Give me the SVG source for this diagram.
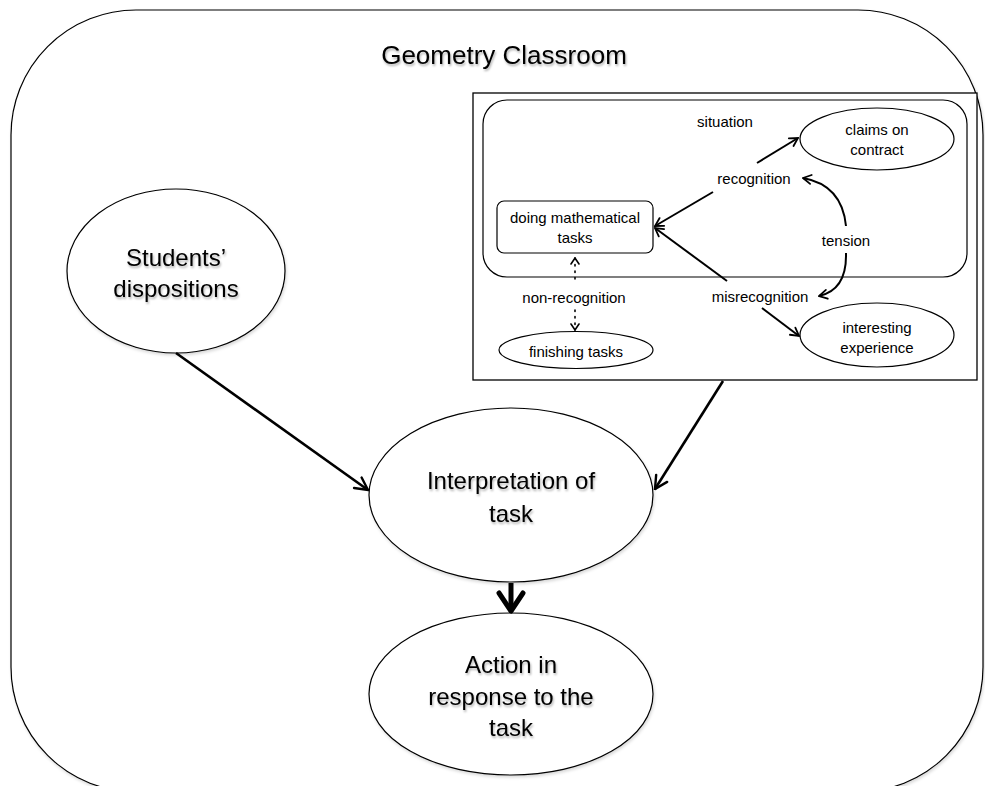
<svg xmlns="http://www.w3.org/2000/svg" width="985" height="786" viewBox="0 0 985 786">
<style>
.big{font-family:"Liberation Sans",Arial,sans-serif;font-size:24px;fill:#000;text-anchor:middle;filter:url(#ts)}
.ttl{font-family:"Liberation Sans",Arial,sans-serif;font-size:26px;fill:#000;text-anchor:middle;filter:url(#ts)}
.sm{font-family:"Liberation Sans",Arial,sans-serif;font-size:15px;fill:#000;text-anchor:middle}
.shape{fill:#fff;stroke:#000;stroke-width:1.2}
.thin{fill:none;stroke:#000;stroke-width:1.2}
.a2{fill:none;stroke:#000;stroke-width:2;marker-end:url(#ms)}
.a3{fill:none;stroke:#000;stroke-width:2.6;marker-end:url(#mb)}
.a5{fill:none;stroke:#000;stroke-width:5;marker-end:url(#mt)}
.dot{fill:none;stroke:#000;stroke-width:1.6;stroke-dasharray:1.5 5;stroke-linecap:round}
</style>
<defs>
<filter id="ts" x="-10%" y="-20%" width="130%" height="160%">
<feDropShadow dx="1" dy="2" stdDeviation="1.2" flood-color="#000" flood-opacity="0.3"/>
</filter>
<filter id="ss" x="-5%" y="-5%" width="112%" height="115%">
<feDropShadow dx="1" dy="2" stdDeviation="1.5" flood-color="#000" flood-opacity="0.15"/>
</filter>
<marker id="ms" viewBox="0 0 12 12" markerUnits="userSpaceOnUse" markerWidth="12" markerHeight="12" refX="11" refY="6" orient="auto">
<path d="M3,1.5 L11,6 L3,10.5" fill="none" stroke="#000" stroke-width="1.8" stroke-linecap="round" stroke-linejoin="miter"/>
</marker>
<marker id="msd" viewBox="0 0 12 12" markerUnits="userSpaceOnUse" markerWidth="12" markerHeight="12" refX="11" refY="6" orient="auto">
<path d="M5,2 L11,6 L5,10" fill="none" stroke="#000" stroke-width="1.6" stroke-linecap="round"/>
</marker>
<marker id="mb" viewBox="0 0 18 18" markerUnits="userSpaceOnUse" markerWidth="18" markerHeight="18" refX="16.5" refY="9" orient="auto">
<path d="M4,2.5 L16.5,9 L4,15.5" fill="none" stroke="#000" stroke-width="2.4" stroke-linecap="round"/>
</marker>
<marker id="mt" viewBox="0 0 30 30" markerUnits="userSpaceOnUse" markerWidth="30" markerHeight="30" refX="26" refY="15" orient="auto">
<path d="M8,3 L26,15 L8,27" fill="none" stroke="#000" stroke-width="5" stroke-linecap="round" stroke-linejoin="round"/>
</marker>
</defs>

<g id="classroom">
<rect x="11" y="10" width="972" height="782" rx="125" ry="125" class="shape" filter="url(#ss)"/>
<text class="ttl" x="504" y="64">Geometry Classroom</text>
</g>

<g id="situation-box">
<rect x="473" y="93" width="504" height="287" fill="#fff" stroke="#000" stroke-width="1.3"/>
<rect x="483" y="100" width="484" height="177" rx="24" ry="24" class="thin"/>
<text class="sm" x="725" y="127">situation</text>
</g>

<g id="claims">
<ellipse cx="877" cy="139" rx="77" ry="31" class="thin"/>
<text class="sm" x="877" y="135">claims on</text>
<text class="sm" x="877" y="155">contract</text>
</g>

<g id="recognition">
<text class="sm" x="754" y="184">recognition</text>
</g>

<g id="doing-tasks">
<rect x="497" y="201" width="156" height="52" rx="7" ry="7" class="thin"/>
<text class="sm" x="575" y="223">doing mathematical</text>
<text class="sm" x="575" y="243">tasks</text>
</g>

<g id="tension">
<text class="sm" x="846" y="246">tension</text>
</g>

<g id="misrecognition">
<text class="sm" x="760" y="302">misrecognition</text>
</g>

<g id="non-recognition">
<text class="sm" x="574" y="303">non-recognition</text>
</g>

<g id="finishing">
<ellipse cx="576" cy="350" rx="77" ry="18.5" class="thin"/>
<text class="sm" x="576" y="357">finishing tasks</text>
</g>

<g id="interesting">
<ellipse cx="877" cy="335" rx="77" ry="32" class="thin"/>
<text class="sm" x="877" y="333">interesting</text>
<text class="sm" x="877" y="353">experience</text>
</g>

<g id="students">
<ellipse cx="176" cy="271" rx="109" ry="82" class="shape" filter="url(#ss)"/>
<text class="big" x="176" y="266">Students’</text>
<text class="big" x="176" y="297">dispositions</text>
</g>

<g id="interpretation">
<ellipse cx="511" cy="495" rx="142" ry="87" class="shape" filter="url(#ss)"/>
<text class="big" x="511" y="489">Interpretation of</text>
<text class="big" x="511" y="522">task</text>
</g>

<g id="action">
<ellipse cx="511" cy="694" rx="142" ry="81" class="shape" filter="url(#ss)"/>
<text class="big" x="511" y="673">Action in</text>
<text class="big" x="511" y="705">response to the</text>
<text class="big" x="511" y="736">task</text>
</g>

<g id="connectors">
<path class="a2" d="M757,163 L798,138"/>
<path class="a2" d="M713,192 L655,226"/>
<path class="a2" d="M727,281 L655,228"/>
<path class="a2" d="M762,308 L799,336"/>
<path class="a2" d="M846,226 Q842,185 803,178"/>
<path class="a2" d="M846,253 Q847,290 819,296"/>
<path class="dot" d="M575,279 L575,258" marker-end="url(#msd)"/>
<path class="dot" d="M575,310 L575,330" marker-end="url(#msd)"/>
<path class="a3" d="M176,353 L368,490"/>
<path class="a3" d="M723,381 L655,489"/>
<path class="a5" d="M511,583 L511,611"/>
</g>
</svg>
